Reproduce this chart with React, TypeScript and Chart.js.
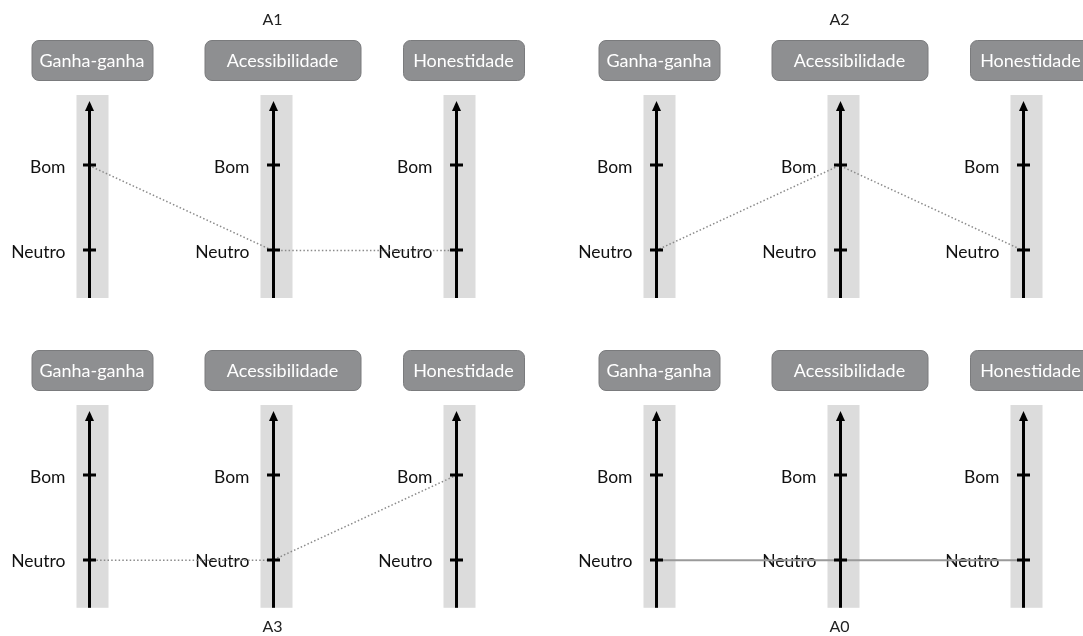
import React, { useEffect, useRef } from "react";
import { Chart, registerables } from "chart.js";

Chart.register(...registerables);

// ---- data ----
const criteria = ["Ganha-ganha", "Acessibilidade", "Honestidade"];
const levelNames = ["Neutro", "Bom"];
const levelValues = [1, 2];
const panelTitles = ["A1", "A2", "A3", "A0"];
const seriesA1 = [2, 1, 1];
const seriesA2 = [1, 2, 1];
const seriesA3 = [1, 1, 2];
const seriesA0 = [1, 1, 1];

// ---- style ----
const FONT = "Lato, 'Open Sans', sans-serif";
const boxWidths = [121, 156, 121];
const boxOffsets = [2.5, 9, 7];

const axisPlugin = {
  id: "parallelAxes",
  beforeDatasetsDraw(chart: any) {
    const { ctx, chartArea, scales } = chart;
    const xs = scales.x;
    const ys = scales.y;
    ctx.save();
    criteria.forEach((name, i) => {
      const x = Math.round(xs.getPixelForValue(i)) + 0.5;
      // gray band
      ctx.fillStyle = "#dcdcdc";
      ctx.fillRect(x - 13, chartArea.top, 32, chartArea.bottom - chartArea.top);
      // level labels
      ctx.fillStyle = "#111";
      ctx.font = `17.5px ${FONT}`;
      ctx.textAlign = "right";
      ctx.textBaseline = "middle";
      levelValues.forEach((v, k) => {
        const y = ys.getPixelForValue(v);
        ctx.fillText(levelNames[k], x - 24, y + 1.5);
      });
      // header box
      const bw = boxWidths[i];
      const cx = x + boxOffsets[i];
      const bx = cx - bw / 2;
      const by = chartArea.top - 55;
      ctx.beginPath();
      ctx.roundRect(bx + 0.5, by + 0.5, bw, 40, 7);
      ctx.fillStyle = "#8e8f91";
      ctx.fill();
      ctx.strokeStyle = "#7a7b7d";
      ctx.lineWidth = 1;
      ctx.stroke();
      ctx.fillStyle = "#ffffff";
      ctx.font = `18px ${FONT}`;
      ctx.textAlign = "center";
      ctx.textBaseline = "middle";
      ctx.fillText(name, cx, by + 21);
    });
    ctx.restore();
  },
  afterDatasetsDraw(chart: any) {
    const { ctx, chartArea, scales } = chart;
    const xs = scales.x;
    const ys = scales.y;
    ctx.save();
    criteria.forEach((_, i) => {
      const x = Math.round(xs.getPixelForValue(i)) + 0.5;
      const tip = chartArea.top + 6;
      ctx.strokeStyle = "#000";
      ctx.lineWidth = 3;
      ctx.beginPath();
      ctx.moveTo(x, chartArea.bottom);
      ctx.lineTo(x, tip + 8);
      ctx.stroke();
      ctx.fillStyle = "#000";
      ctx.beginPath();
      ctx.moveTo(x, tip);
      ctx.lineTo(x - 4.5, tip + 10);
      ctx.lineTo(x + 4.5, tip + 10);
      ctx.closePath();
      ctx.fill();
      levelValues.forEach((v) => {
        const y = Math.round(ys.getPixelForValue(v));
        ctx.fillRect(x - 6.5, y - 1.5, 13, 3);
      });
    });
    ctx.restore();
  },
};

type PanelProps = {
  title: string;
  values: number[];
  bottomTitle: boolean;
  dashed: boolean;
  left: number;
  top: number;
  height: number;
};

function Panel({ title, values, bottomTitle, dashed, left, top, height }: PanelProps) {
  const ref = useRef<HTMLCanvasElement | null>(null);
  useEffect(() => {
    if (!ref.current) return;
    const chart = new Chart(ref.current, {
      type: "line",
      data: {
        labels: criteria,
        datasets: [
          {
            data: values,
            borderColor: dashed ? "#8a8a8a" : "#9a9a9a",
            borderWidth: dashed ? 1.5 : 2,
            borderDash: dashed ? [1.5, 2.2] : [],
            pointRadius: 0,
            tension: 0,
            clip: false as any,
          },
        ],
      },
      options: {
        responsive: false,
        animation: false,
        devicePixelRatio: 1,
        events: [],
        layout: {
          padding: {
            left: 89,
            right: 111,
            top: bottomTitle ? 95 : 0,
            bottom: bottomTitle ? 0 : 12,
          },
        },
        scales: {
          x: { type: "category", display: false, offset: false },
          y: { type: "linear", display: false, min: 0.441, max: 2.829 },
        },
        plugins: {
          legend: { display: false },
          tooltip: { enabled: false },
          title: {
            display: true,
            text: title,
            position: bottomTitle ? "bottom" : "top",
            color: "#222",
            font: { family: FONT, size: 16, weight: "normal", lineHeight: 1.2 },
            padding: bottomTitle ? { top: 9, bottom: 0 } : { top: 10, bottom: 65.8 },
          },
        },
      },
      plugins: [axisPlugin],
    } as any);
    return () => chart.destroy();
  }, [title, values, bottomTitle, dashed]);
  return (
    <div style={{ position: "absolute", left, top, width: 567, height }}>
      <canvas ref={ref} width={567} height={height} style={{ display: "block" }} />
    </div>
  );
}

export default function App() {
  return (
    <div
      style={{
        position: "absolute",
        left: 0,
        top: 0,
        width: 1083,
        height: 636,
        overflow: "hidden",
        background: "#fff",
      }}
    >
      <Panel title={panelTitles[0]} values={seriesA1} bottomTitle={false} dashed left={0} top={0} height={310} />
      <Panel title={panelTitles[1]} values={seriesA2} bottomTitle={false} dashed left={567} top={0} height={310} />
      <Panel title={panelTitles[2]} values={seriesA3} bottomTitle dashed left={0} top={310} height={326} />
      <Panel title={panelTitles[3]} values={seriesA0} bottomTitle dashed={false} left={567} top={310} height={326} />
    </div>
  );
}
